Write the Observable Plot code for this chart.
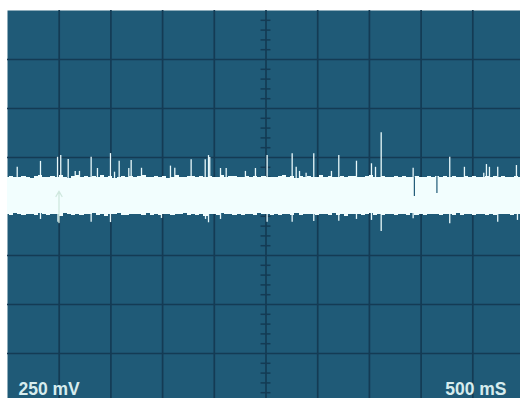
<!DOCTYPE html>
<html><head><meta charset="utf-8">
<script src="https://cdn.jsdelivr.net/npm/d3@7"></script>
<script src="https://cdn.jsdelivr.net/npm/@observablehq/plot@0.6"></script>
<style>body{margin:0;background:#fff;overflow:hidden} svg{display:block}</style>
</head><body><div id="chart"></div>
<script>
// Trace envelope, sampled every 40 ms (mV)
const sampleStepMs = 40;
const bandUpper = [
148,152,146,150,155,149,144,151,158,147,
150,153,147,156,149,145,152,160,148,151,
146,154,150,157,148,152,145,150,155,149,
153,147,151,158,146,150,154,148,152,145,
149,156,150,147,153,151,146,155,149,152,
148,150,157,146,151,154,147,150,153,148,
152,146,155,149,150,147,153,158,148,151,
145,152,149,154,147,150,156,148,151,146,
150,153,147,152,155,149,146,151,157,148,
150,154,147,149,152,146,153,150,148,155,
149,146,152,150,154,147,151,148,153,150,
146,155,149,152,147,150,154,148,151,146,
152,149,150,153,147,151];
const bandLower = [
-40,-44,-38,-42,-46,-39,-41,-48,-37,-43,
-45,-39,-42,-50,-38,-41,-44,-40,-47,-39,
-42,-38,-45,-41,-49,-40,-43,-37,-44,-46,
-39,-42,-40,-48,-38,-44,-41,-45,-39,-43,
-47,-40,-42,-38,-46,-41,-44,-39,-50,-42,
-40,-45,-38,-43,-41,-47,-39,-44,-42,-40,
-46,-38,-43,-41,-48,-39,-45,-40,-42,-44,
-38,-47,-41,-43,-39,-46,-42,-40,-44,-38,
-45,-41,-49,-39,-43,-40,-46,-42,-38,-44,
-41,-47,-39,-43,-45,-40,-42,-48,-38,-44,
-40,-46,-41,-43,-39,-45,-42,-40,-47,-38,
-44,-41,-43,-46,-39,-42,-48,-40,-45,-41,
-43,-39,-46,-42,-40,-44];
// Upward spikes: time (ms), peak (mV)
const spikeTimes = [94,319,484,515,587,655,696,809,870,996,1035,1080,1173,1196,1296,1576,1618,1776,1912,1944,1956,2060,2115,2301,2398,2511,2753,2792,2824,2888,2962,3133,3204,3375,3520,3559,3614,3923,4277,4419,4606,4632,4661,4741,4922];
const spikePeaks = [200,230,251,260,240,179,179,251,194,270,175,231,194,235,195,206,195,238,238,260,250,194,194,179,194,260,269,200,179,170,269,179,260,231,218,200,376,195,251,200,170,214,200,200,209];
// Downward spikes: time (ms), low (mV)
const dipTimes = [319,488,809,996,1489,1915,1944,2060,2511,2753,2962,3204,3375,3520,3614,3923,4277,4741,4932];
const dipLows = [-66,-80,-80,-82,-61,-66,-83,-66,-80,-80,-77,-75,-66,-71,-128,-63,-88,-80,-71];
// Gaps in the trace
const gapTimes = [3935, 4153];
const gapTops = [152, 152];
const gapBottoms = [51, 66];
// Cursor arrow and trigger level
const markerTimes = [498];
const markerFrom = [-82];
const markerTo = [78];
const triggerLevels = [25];
// Graticule
const timeGrid = [500,1000,1500,2000,2500,3000,3500,4000,4500];
const voltGrid = [-750,-500,-250,0,250,500,750];
const minorVolt = [-950,-900,-850,-800,-700,-650,-600,-550,-450,-400,-350,-300,-200,-150,-100,-50,50,100,150,200,300,350,400,450,550,600,650,700,800,850,900,950];
const centerTimeMs = 2500;
const minorHalfMs = 48;
const scaleLabels = ["250 mV", "500 mS"];

const band = bandUpper.map((hi, i) => ({t: i * sampleStepMs, hi, lo: bandLower[i]}));
const spikes = spikeTimes.map((t, i) => ({t, v: spikePeaks[i]}));
const dips = dipTimes.map((t, i) => ({t, v: dipLows[i]}));
const gaps = gapTimes.map((t, i) => ({t, top: gapTops[i], bottom: gapBottoms[i]}));
const markers = markerTimes.map((t, i) => ({t, a: markerFrom[i], b: markerTo[i]}));

const bg = "#1f5a77", gridC = "#143b54", trace = "#f2fefe", txt = "#d6ecee";

const chart = Plot.plot({
  width: 520, height: 398,
  marginTop: 10, marginLeft: 7, marginRight: 0, marginBottom: 0,
  x: {domain: [0, 5000], range: [7, 524], axis: null},
  y: {domain: [-1000, 1000], range: [402, 10], axis: null},
  style: {background: "white", overflow: "hidden"},
  marks: [
    Plot.frame({fill: bg, stroke: null}),
    Plot.ruleX(timeGrid, {x: d => d, stroke: gridC, strokeWidth: 1.7}),
    Plot.ruleY(voltGrid, {y: d => d, stroke: gridC, strokeWidth: 1.7}),
    Plot.ruleY(minorVolt, {y: d => d, x1: () => centerTimeMs - minorHalfMs, x2: () => centerTimeMs + minorHalfMs, stroke: gridC, strokeWidth: 1.5}),
    Plot.ruleX(spikes, {x: "t", y1: 0, y2: "v", stroke: "#e8f8fa", strokeWidth: 1.3}),
    Plot.ruleX(dips, {x: "t", y1: 0, y2: "v", stroke: "#e8f8fa", strokeWidth: 1.3}),
    Plot.areaY(band, {x: "t", y1: "lo", y2: "hi", curve: "step", fill: trace, shapeRendering: "crispEdges"}),
    Plot.ruleX(gaps, {x: "t", y1: "bottom", y2: "top", stroke: bg, strokeWidth: 1.2}),
    Plot.arrow(markers, {x1: "t", x2: "t", y1: "a", y2: "b", stroke: "#cfe8de", strokeWidth: 1.3, headLength: 7}),
    Plot.ruleY(triggerLevels, {y: d => d, x1: () => 0, x2: () => 25, stroke: trace, strokeWidth: 1.5}),
    Plot.text([scaleLabels[0]], {frameAnchor: "bottom-left", dx: 11, dy: -4, textAnchor: "start", lineAnchor: "bottom", fill: txt, fontSize: 17.5, fontWeight: "bold", fontFamily: "Liberation Sans, Arial, sans-serif"}),
    Plot.text([scaleLabels[1]], {frameAnchor: "bottom-right", dx: -14, dy: -4, textAnchor: "end", lineAnchor: "bottom", fill: txt, fontSize: 17.5, fontWeight: "bold", fontFamily: "Liberation Sans, Arial, sans-serif"})
  ]
});
document.getElementById("chart").append(chart);
</script>
</body></html>
